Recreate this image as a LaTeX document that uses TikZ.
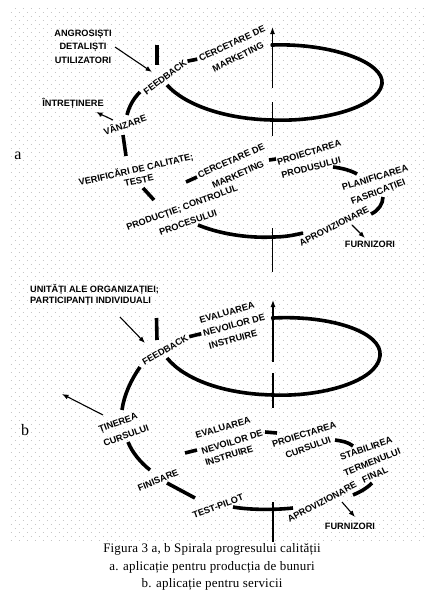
\documentclass[tikz,border=0pt]{standalone}
\usepackage{fontspec}
\setmainfont{Liberation Serif}
\newfontfamily\lab{Liberation Sans}
\newfontfamily\capfont[LetterSpace=1.5]{Liberation Serif}
\usetikzlibrary{arrows.meta}
\begin{document}
\begin{tikzpicture}[x=1pt,y=-1pt,
  lbl/.style={font=\lab\bfseries\fontsize{9.2}{11}\selectfont, inner sep=0pt, text height=6.6pt, text depth=0pt},
  spir/.style={line width=3.6pt},
  axisln/.style={line width=1.2pt},
  arr/.style={line width=1.1pt,-{Latex[length=6.5pt,width=5pt]}},
  dotline/.style={gray!45, line width=1pt, dash pattern=on 1pt off 7pt},
  captxt/.style={font=\capfont\fontsize{13}{15}\selectfont, inner sep=0pt, anchor=base},
  letter/.style={font=\fontsize{16}{16}\selectfont, inner sep=0pt}]
\useasboundingbox (0,0) rectangle (424,592);
% dotted background
\foreach \r in {0,...,133}{
  \pgfmathsetmacro\yy{8+4*\r}
  \pgfmathsetmacro\xo{mod(\r,2)==0 ? 14.5 : 10.5}
  \draw[dotline] (\xo,\yy) -- (424,\yy);
}
% ================= PART A =================
\node[lbl, align=center, font=\lab\bfseries\fontsize{9.2}{13.5}\selectfont] (angr) at (83,60) {ANGROSIȘTI\\DETALIȘTI\\UTILIZATORI};
\node[lbl, rotate=37] (fbA) at (165,77) {FEEDBACK};
\node[lbl, rotate=25] (cmA1) at (232,43.5) {CERCETARE DE};
\node[lbl, rotate=26] (cmA2) at (238,57) {MARKETING};
\node[lbl] (intr) at (73,103) {ÎNTREȚINERE};
\node[lbl, rotate=19] (vanz) at (125,125) {VÂNZARE};
\node[lbl, rotate=13] (ver) at (136,169.5) {VERIFICĂRI DE CALITATE;};
\node[lbl, rotate=12] (teste) at (139,180.5) {TESTE};
\node[lbl, rotate=20] (prod1) at (182,207.5) {PRODUCȚIE; CONTROLUL};
\node[lbl, rotate=19] (prod2) at (188,222.5) {PROCESULUI};
\node[lbl, rotate=24] (cmB1) at (231,160.5) {CERCETARE DE};
\node[lbl, rotate=24] (cmB2) at (238,174.5) {MARKETING};
\node[lbl, rotate=17] (proA1) at (309,152.5) {PROIECTAREA};
\node[lbl, rotate=14] (proA2) at (311,167.5) {PRODUSULUI};
\node[lbl, rotate=17] (planA1) at (375,177.5) {PLANIFICAREA};
\node[lbl, rotate=21] (planA2) at (378,191.5) {FASRICAȚIEI};
\node[lbl, rotate=27] (aprA) at (334,226) {APROVIZIONARE};
\node[lbl] (furA) at (370,244) {FURNIZORI};
\node[letter] (la) at (18,156) {a};

% axis A
\coordinate (axA0) at (272.5,27);
\coordinate (axA1) at (272.5,88);
\coordinate (axA2) at (272.5,102);
\coordinate (axA3) at (272.5,136);
\coordinate (axA4) at (272.5,228);
\coordinate (axA5) at (272.5,272);
\draw[axisln,-{Latex[length=7pt,width=5pt]}] (axA1) -- (axA0);
\draw[axisln] (axA2) -- (axA3);
\draw[axisln] (axA4) -- (axA5);
\fill (272.5,45) circle (2.2pt);

% spiral A
\draw[spir] (157,45) -- (157,65);
\draw[spir, shorten <=2pt, shorten >=2pt] (fbA.east) -- (cmA1.west);
\draw[spir] (272,45) .. controls (330,43) and (385,62) .. (382,84)
  .. controls (378,108) and (320,122) .. (272,120)
  .. controls (225,119) and (185,105) .. (167,85);
\draw[spir] (140,92) .. controls (133,99) and (129,107) .. (127,115);
\draw[spir] (123,135) .. controls (124,142) and (125,149) .. (126,156);
\draw[spir] (143,188) -- (154,200);
\draw[spir] (186,182) -- (197,177);
\draw[spir] (269,160) -- (276,159);
\draw[spir] (333,167) .. controls (341,168) and (350,170) .. (357,174);
\draw[spir] (383,197) .. controls (383,204) and (378,211) .. (371,214);
\draw[spir] (198,225) .. controls (225,236) and (255,238) .. (273,237)
  .. controls (285,237) and (295,235) .. (303,233);

% arrows A
\coordinate (arA1) at (115,47);
\coordinate (arA2) at (152,72);
\draw[arr] (arA1) -- (arA2);
\coordinate (arB1) at (113,120);
\coordinate (arB2) at (96,112);
\draw[arr] (arB1) -- (arB2);
\coordinate (arC1) at (352,225);
\coordinate (arC2) at (365,238);
\draw[arr] (arC1) -- (arC2);

% ================= PART B =================
\node[lbl, align=left, anchor=west, font=\lab\bfseries\fontsize{9.2}{10.5}\selectfont] (unit) at (30,300) {UNITĂȚI ALE ORGANIZAȚIEI;\\PARTICIPANȚI INDIVIDUALI};
\node[lbl, rotate=30] (fbB) at (165,350) {FEEDBACK};
\node[lbl, rotate=16] (evA1) at (227,312.5) {EVALUAREA};
\node[lbl, rotate=15] (evA2) at (234,325) {NEVOILOR DE};
\node[lbl, rotate=15] (evA3) at (233,339.5) {INSTRUIRE};
\node[lbl, rotate=20] (tin1) at (118,422.5) {ȚINEREA};
\node[lbl, rotate=20] (tin2) at (126,435.5) {CURSULUI};
\node[lbl, rotate=22] (fin) at (158,480) {FINISARE};
\node[lbl, rotate=20] (test) at (218,506) {TEST-PILOT};
\node[lbl, rotate=16] (evC1) at (223,427.5) {EVALUAREA};
\node[lbl, rotate=17] (evC2) at (232,442) {NEVOILOR DE};
\node[lbl, rotate=17] (evC3) at (229,455.5) {INSTRUIRE};
\node[lbl, rotate=17] (proB1) at (304,434.5) {PROIECTAREA};
\node[lbl, rotate=20] (proB2) at (308,447.5) {CURSULUI};
\node[lbl, rotate=19] (stab) at (366,448.5) {STABILIREA};
\node[lbl, rotate=22] (term) at (372,462) {TERMENULUI};
\node[lbl, rotate=24] (final) at (375,474.5) {FINAL};
\node[lbl, rotate=28] (aprB) at (322,502) {APROVIZIONARE};
\node[lbl] (furB) at (350,526) {FURNIZORI};
\node[letter] (lb) at (25,430) {b};

% axis B
\coordinate (axB0) at (273,300);
\coordinate (axB1) at (273,362);
\coordinate (axB2) at (273,373);
\coordinate (axB3) at (273,408);
\coordinate (axB4) at (273,502);
\coordinate (axB5) at (273,542);
\draw[axisln,-{Latex[length=7pt,width=5pt]}] (axB1) -- (axB0);
\draw[axisln] (axB2) -- (axB3);
\draw[axisln] (axB4) -- (axB5);
\fill (273,318) circle (2.2pt);

% spiral B
\draw[spir] (156.5,318) -- (157,340);
\draw[spir, shorten <=2pt, shorten >=2pt] (fbB.east) -- (evA2.west);
\draw[spir] (273,318) .. controls (330,315) and (383,332) .. (380,356)
  .. controls (377,382) and (320,397) .. (273,395)
  .. controls (225,394) and (185,380) .. (167,358);
\draw[spir] (140,367) .. controls (131,380) and (124,395) .. (122,410);
\draw[spir] (128,442) .. controls (132,452) and (140,462) .. (150,470);
\draw[spir] (167,483) -- (195,498);
\draw[spir] (233,507) .. controls (250,510) and (275,510) .. (293,508);
\draw[spir] (372,483) .. controls (366,489) and (360,492) .. (353,495);
\draw[spir] (335,440) .. controls (342,441) and (348,442) .. (353,446);
\draw[spir] (265,432) -- (277,433);
\draw[spir] (185,453) -- (197,450);

% arrows B
\coordinate (brA1) at (120,317);
\coordinate (brA2) at (145,343);
\draw[arr] (brA1) -- (brA2);
\coordinate (brB1) at (103,415);
\coordinate (brB2) at (62,394);
\draw[arr] (brB1) -- (brB2);
\coordinate (brC1) at (342,502);
\coordinate (brC2) at (355,517);
\draw[arr] (brC1) -- (brC2);

% caption
\node[captxt] (cap1) at (212,552.5) {Figura 3 a, b Spirala progresului calității};
\node[captxt] (cap2) at (212,570) {a. aplicație pentru producția de bunuri};
\node[captxt] (cap3) at (212,587) {b. aplicație pentru servicii};
\end{tikzpicture}
\end{document}
